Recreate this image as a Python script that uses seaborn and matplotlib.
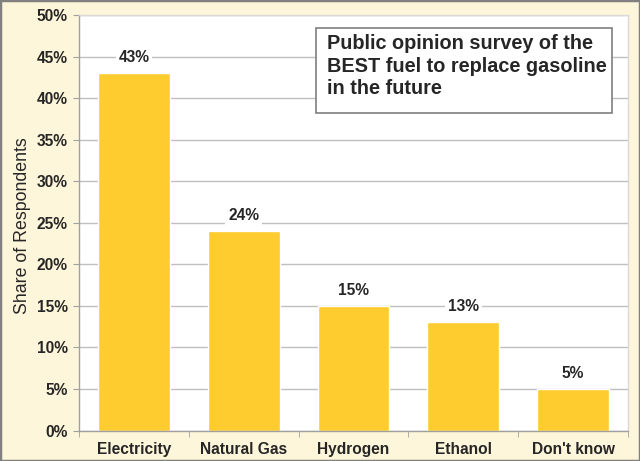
import matplotlib
matplotlib.use("Agg")
import matplotlib.pyplot as plt
import seaborn as sns
import pandas as pd
import numpy as np
from matplotlib.ticker import FixedLocator, PercentFormatter

categories = ["Electricity", "Natural Gas", "Hydrogen", "Ethanol", "Don't know"]
shares = [43, 24, 15, 13, 5]
value_labels = ["43%", "24%", "15%", "13%", "5%"]
yticks = [0, 5, 10, 15, 20, 25, 30, 35, 40, 45, 50]

sns.set_style("white")
plt.rcParams['font.family'] = ['Liberation Sans', 'DejaVu Sans']

bg = "#FEF6DA"
bar_color = "#FFCC2F"
grid_color = "#BFBFBF"

W, H = 640, 461
fig = plt.figure(figsize=(6.4, 4.61), dpi=100, facecolor=bg)
ax = fig.add_axes([79/W, 1 - 430.5/H, 549/W, 415.5/H])
ax.set_facecolor("white")

df = pd.DataFrame({"Fuel": categories, "Share": shares})
sns.barplot(data=df, x="Fuel", y="Share", color=bar_color, saturation=1,
            width=0.655, ax=ax, zorder=2)

ax.set_ylim(0, 50)
ax.set_xlim(-0.5, 4.5)
ax.set_yticks(yticks)
ax.yaxis.set_major_formatter(PercentFormatter(decimals=0))
ax.yaxis.grid(True, color=grid_color, linewidth=1)
ax.set_axisbelow(True)

for lbl in ax.get_yticklabels():
    lbl.set_fontweight("bold")
    lbl.set_fontsize(11.2)
ax.tick_params(axis="y", length=4, color="#A0A0A0", pad=4, left=True)

ax.set_xticks(range(len(categories)))
ax.set_xticklabels(categories, fontsize=11.2, fontweight="bold")
ax.tick_params(axis="x", which="major", length=0, pad=8)
ax.xaxis.set_minor_locator(FixedLocator(np.arange(-0.5, 5.0, 1.0)))
ax.tick_params(axis="x", which="minor", length=4, color="#A0A0A0", bottom=True)

ax.set_xlabel("")
ax.set_ylabel("Share of Respondents", fontsize=12.8)
ax.yaxis.set_label_coords(23/W, 1 - 226/H, transform=fig.transFigure)
ax.yaxis.label.set_va("center")

for s in ["left", "bottom"]:
    ax.spines[s].set_color("#A0A0A0")
    ax.spines[s].set_linewidth(1)
for s in ["top", "right"]:
    ax.spines[s].set_color("#D9D9D9")
    ax.spines[s].set_linewidth(1)

for i, (v, t) in enumerate(zip(shares, value_labels)):
    ax.text(i, v + 1.0, t, ha="center", va="bottom", fontsize=11.2,
            fontweight="bold", zorder=3,
            bbox=dict(facecolor="white", edgecolor="none", pad=2))

# title box
fig.patches.append(plt.Rectangle((316/W, 1 - 113/H), 296/W, 85/H,
                                 transform=fig.transFigure, facecolor="white",
                                 edgecolor="#7F7F7F", linewidth=1.2, zorder=5))
fig.text(327/W, 1 - 34/H,
         "Public opinion survey of the\nBEST fuel to replace gasoline\nin the future",
         ha="left", va="top", fontsize=14.3, fontweight="bold",
         linespacing=1.25, zorder=6)

fig.patches.append(plt.Rectangle((0, 0), 1, 1, transform=fig.transFigure,
                                 fill=False, edgecolor="#808080", linewidth=2.5))

fig.savefig("out.png", dpi=100, facecolor=bg)
